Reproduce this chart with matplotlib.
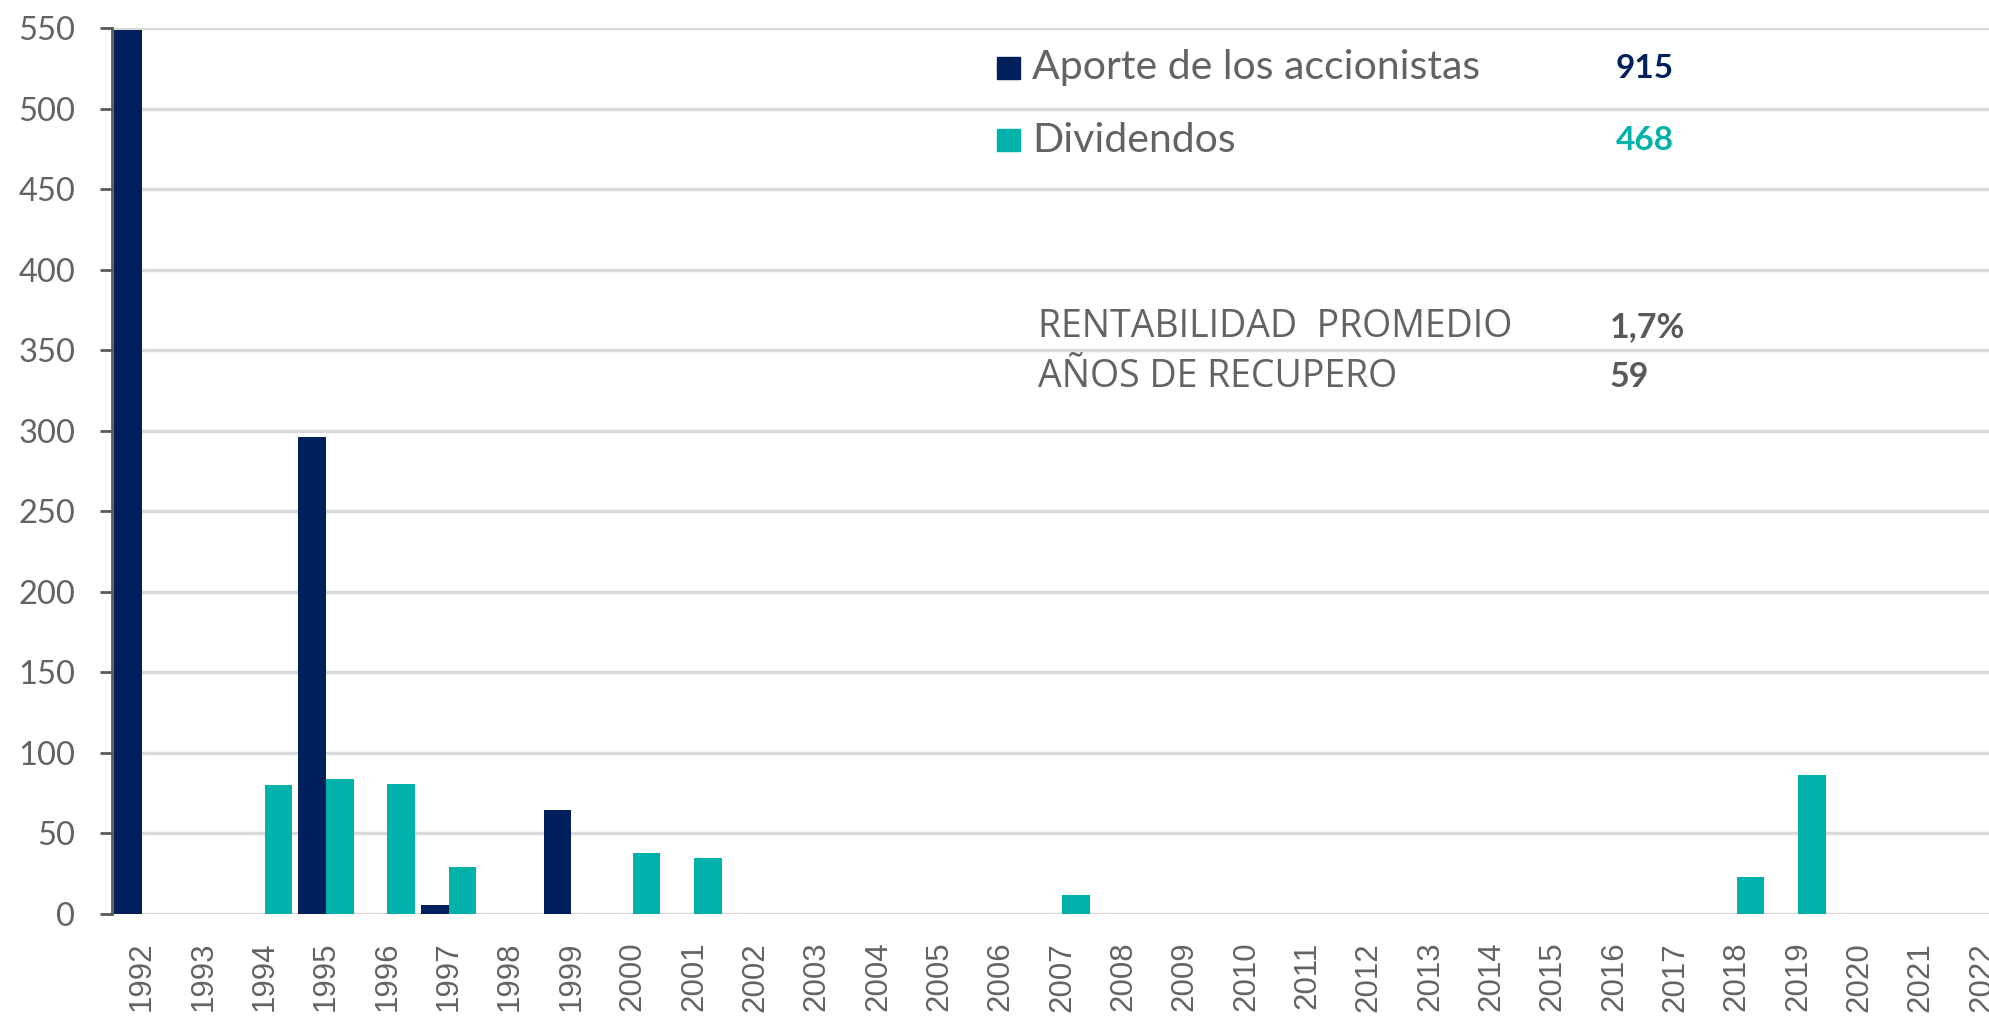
import numpy as np
import matplotlib
matplotlib.use("Agg")
import matplotlib.pyplot as plt

# data (millions)
years = list(range(1992, 2023))
aporte = [549, 0, 0, 296, 0, 5.5, 0, 64.5, 0, 0, 0, 0, 0, 0, 0, 0,
          0, 0, 0, 0, 0, 0, 0, 0, 0, 0, 0, 0, 0, 0, 0]
dividendos = [0, 0, 80, 84, 81, 29, 0, 0, 38, 35, 0, 0, 0, 0, 0, 12,
              0, 0, 0, 0, 0, 0, 0, 0, 0, 0, 23, 86, 0, 0, 0]
yticks = list(range(0, 551, 50))

legend_labels = ["Aporte de los accionistas", "Dividendos"]
legend_totals = ["915", "468"]
stat_labels = ["RENTABILIDAD  PROMEDIO", "AÑOS DE RECUPERO"]
stat_values = ["1,7%", "59"]

NAVY = "#00205B"
TEAL = "#00B2A9"
GRAY = "#595959"
LGRAY = "#626366"
GRID = "#D9D9D9"

W, H = 1990, 1018
fig = plt.figure(figsize=(W / 100, H / 100), dpi=100)
ax = fig.add_axes([112 / W, 1 - 914 / H, 1 - 112 / W, (914 - 28) / H])

x = np.array(years)
bw = 0.45
ax.bar(x - bw / 2, aporte, bw, color=NAVY, linewidth=0, zorder=3)
ax.bar(x + bw / 2, dividendos, bw, color=TEAL, linewidth=0, zorder=3)

ax.set_xlim(1991.51, 2022.13)
ax.set_ylim(0, 550)
ax.set_yticks(yticks)
ax.set_xticks(years)
ax.set_xticklabels([str(y) for y in years], rotation=90, family="Liberation Sans",
                   fontsize=22.5, color=LGRAY)
ax.set_yticklabels([str(v) for v in yticks], family="Lato", fontsize=23.5, color=LGRAY)
ax.tick_params(axis="x", length=0, pad=20)
ax.tick_params(axis="y", length=8.6, width=2, color=GRAY, pad=18)

ax.yaxis.grid(True, color=GRID, linewidth=2.5, zorder=0)
ax.set_axisbelow(True)
for s in ["top", "right", "bottom"]:
    ax.spines[s].set_visible(False)
ax.spines["left"].set_color(GRAY)
ax.spines["left"].set_linewidth(2)


def fx(px):
    return px / W


def fy(py):
    return 1 - py / H


# legend block
for i, (lab, tot, col) in enumerate(zip(legend_labels, legend_totals, [NAVY, TEAL])):
    yc = [68, 140][i]
    fig.patches.append(plt.Rectangle((fx(997), fy(yc + 11)), 23 / W, 22 / H,
                                     transform=fig.transFigure, color=col))
    fig.text(fx(1032), fy(yc), lab, family="Lato", fontsize=29.5, color=LGRAY,
             va="center", ha="left")
    fig.text(fx(1616), fy(yc), tot, family="Lato", fontsize=24, fontweight="bold",
             color=col, va="center", ha="left")

# summary stats
for i, (lab, val) in enumerate(zip(stat_labels, stat_values)):
    yc = [327, 377][i]
    fig.text(fx(1038), fy(yc), lab, family="Open Sans", fontsize=27,
             color=LGRAY, va="center", ha="left")
    fig.text(fx(1610), fy(yc), val, family="Lato", fontsize=24.5, fontweight="bold",
             color=GRAY, va="center", ha="left")

fig.savefig("out.png", dpi=100)
